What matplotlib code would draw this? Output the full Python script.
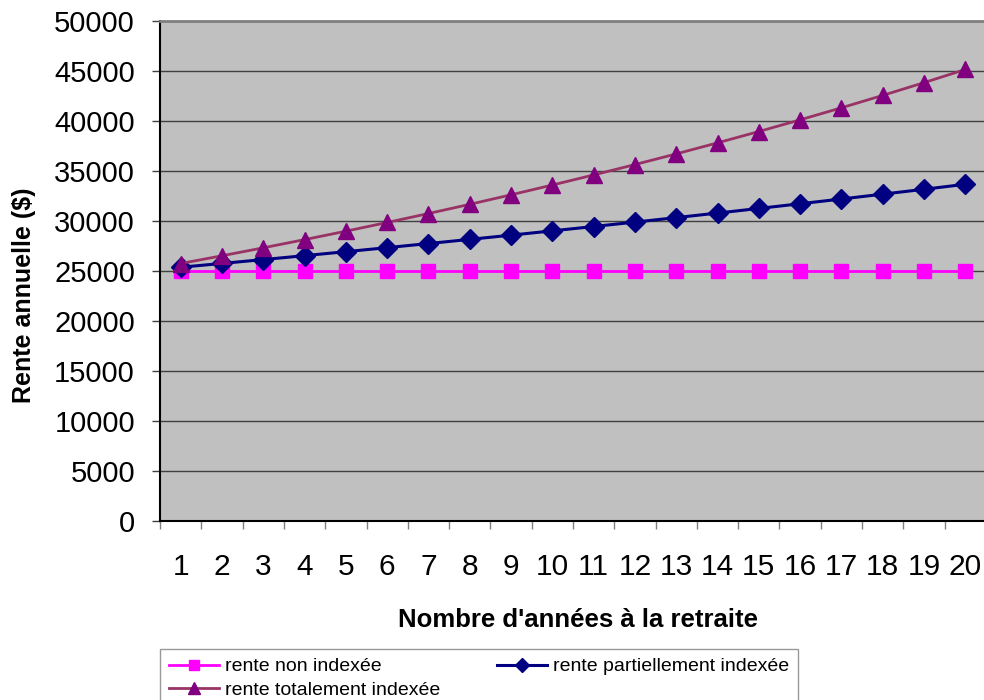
import matplotlib.pyplot as plt
import numpy as np

plt.rcParams["font.family"] = ["Liberation Sans", "DejaVu Sans"]

annees = list(range(1, 21))
rente_non = [25000] * 20
rente_partielle = [25375, 25756, 26142, 26534, 26932, 27336, 27746, 28162, 28585, 29014,
                   29449, 29890, 30339, 30794, 31256, 31725, 32201, 32684, 33174, 33671]
rente_totale = [25750, 26523, 27318, 28138, 28982, 29851, 30747, 31669, 32619, 33598,
                34606, 35644, 36713, 37815, 38949, 40118, 41321, 42561, 43838, 45153]

fig = plt.figure(figsize=(9.84, 7.0), dpi=100)
ax = fig.add_axes([160 / 984, 179 / 700, 826 / 984, 500 / 700])
ax.set_facecolor("#C0C0C0")

x = np.arange(len(annees))
l1, = ax.plot(x, rente_non, color="#FF00FF", lw=2, marker="s", ms=10,
              label="rente non indexée", zorder=3)
l2, = ax.plot(x, rente_partielle, color="#000080", lw=2.2, marker="D", ms=10,
              label="rente partiellement indexée", zorder=4)
l3, = ax.plot(x, rente_totale, color="#993366", lw=2, marker="^", ms=11.5,
              mfc="#800080", mec="#800080", label="rente totalement indexée", zorder=5)

ax.set_xlim(-0.5, len(annees) - 0.5)
ax.set_ylim(0, 50000)
ax.set_yticks(range(0, 50001, 5000))
ax.yaxis.grid(True, color="#404040", lw=1)
ax.set_axisbelow(True)

ax.set_xticks(x)
ax.set_xticklabels([str(a) for a in annees])
ax.set_xticks(np.arange(-0.5, len(annees), 1), minor=True)
ax.tick_params(axis="x", which="major", length=0, pad=23, labelsize=21.5)
ax.tick_params(axis="x", which="minor", length=6, color="#808080", width=1)
ax.tick_params(axis="y", length=6, width=1, color="#404040", pad=12, labelsize=21)

for side in ["top", "right"]:
    ax.spines[side].set_color("#808080")
    ax.spines[side].set_linewidth(2)
ax.spines["left"].set_color("black")
ax.spines["left"].set_linewidth(1.5)
ax.spines["bottom"].set_color("black")
ax.spines["bottom"].set_linewidth(1.5)

fig.text(24 / 984, 1 - 295 / 700, "Rente annuelle ($)", rotation=90, fontsize=18,
         fontweight="bold", ha="center", va="center")
fig.text(578 / 984, 1 - 620 / 700, "Nombre d'années à la retraite", fontsize=18.5,
         fontweight="bold", ha="center", va="center")

leg = fig.legend(handles=[l1, l3, l2], ncol=2, loc="upper left",
                 bbox_to_anchor=(160 / 984, 1 - 649 / 700),
                 fontsize=14, frameon=True, fancybox=False,
                 edgecolor="#808080", handlelength=2.6, markerscale=0.7,
                 borderaxespad=0, labelspacing=0.3, handletextpad=0.3,
                 borderpad=0.45, columnspacing=2.9)
leg.get_frame().set_linewidth(1)

fig.savefig("out.png", dpi=100)
